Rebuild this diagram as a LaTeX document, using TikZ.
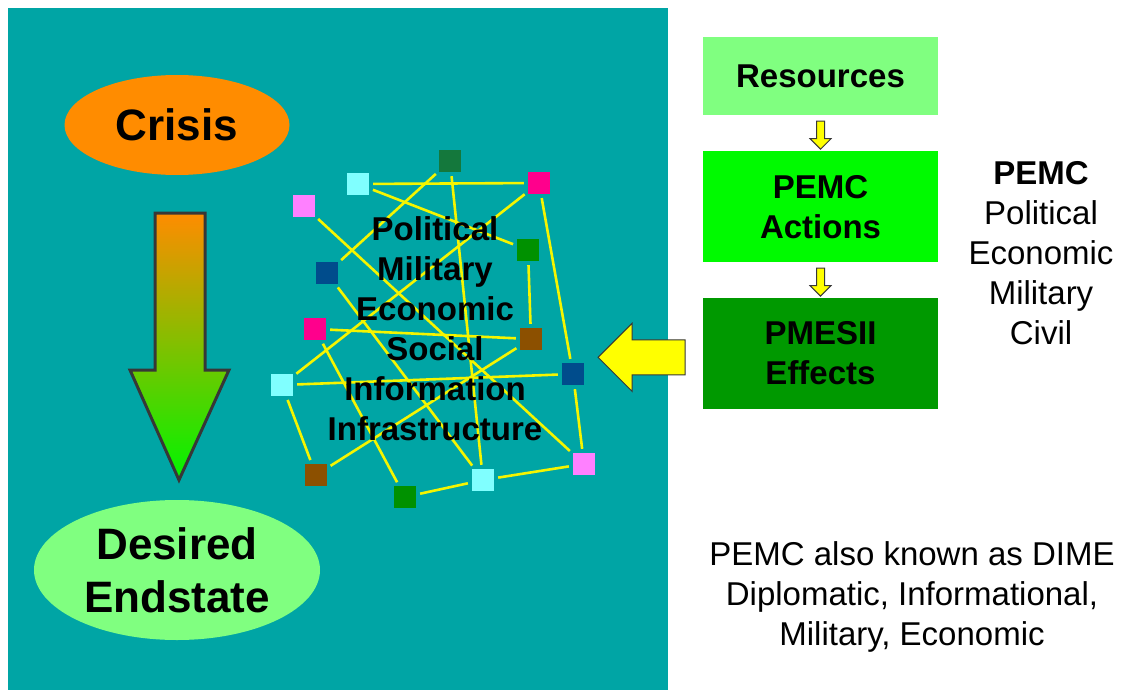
\documentclass[tikz,border=0pt]{standalone}
\usepackage{fontspec}
\setmainfont{Liberation Sans}
\usetikzlibrary{positioning,calc,shapes.geometric,shapes.arrows}
\definecolor{cteal}{RGB}{0,165,165}
\definecolor{corange}{RGB}{255,140,0}
\definecolor{clight}{RGB}{128,255,128}
\definecolor{clime}{RGB}{0,250,0}
\definecolor{cdark}{RGB}{0,153,0}
\definecolor{cyel}{RGB}{255,255,0}
\definecolor{cline}{RGB}{245,245,0}
\definecolor{cgray}{RGB}{55,55,55}
\definecolor{cgreen}{RGB}{0,245,0}
\definecolor{sqdkgreen}{RGB}{20,120,60}
\definecolor{sqcyan}{RGB}{128,255,255}
\definecolor{sqmag}{RGB}{255,0,140}
\definecolor{sqpink}{RGB}{255,128,255}
\definecolor{sqgreen}{RGB}{0,145,0}
\definecolor{sqblue}{RGB}{0,76,140}
\definecolor{sqbrown}{RGB}{140,80,0}

\begin{document}
\begin{tikzpicture}[x=1pt, y=-1pt,
    oval/.style={ellipse, inner sep=0pt, align=center,
                 font=\bfseries\fontsize{44}{53}\selectfont},
    stagebox/.style={rectangle, minimum width=235pt, inner sep=0pt, align=center,
                     font=\bfseries\fontsize{33}{40}\selectfont},
    sq/.style={rectangle, minimum size=22pt, inner sep=0pt},
    link/.style={cline, line width=2.6pt, shorten >=4pt, shorten <=4pt},
    yarrow/.style={single arrow, fill=cyel, draw=cgray, line width=1pt, inner xsep=0pt}
  ]
  \useasboundingbox[fill=white] (0,0) rectangle (1132,690);
  \fill[cteal] (8,8) rectangle (668,690);

  % crisis to endstate
  \node[oval, fill=corange, minimum width=225pt, minimum height=100pt] (crisis) at (177,125) {Crisis};
  \node[oval, fill=clight, minimum width=286pt, minimum height=140pt] (endstate) at (177,570) {Desired\\Endstate};
  \shadedraw[top color=corange, bottom color=cgreen, draw=cgray, line width=3pt]
    (155,213) -- (205,213) -- (205,370) -- (229,370) -- (179,480) -- (130,370) -- (155,370) -- cycle;

  % the system
  \node[sq, fill=sqdkgreen] (dg1) at (450,161) {};
  \node[sq, fill=sqcyan] (cy1) at (358,184) {};
  \node[sq, fill=sqmag] (mg1) at (539,183) {};
  \node[sq, fill=sqpink] (pk1) at (304,206) {};
  \node[sq, fill=sqgreen] (gr1) at (528,250) {};
  \node[sq, fill=sqblue] (bl1) at (327,273) {};
  \node[sq, fill=sqmag] (mg2) at (315,329) {};
  \node[sq, fill=sqbrown] (br1) at (531,339) {};
  \node[sq, fill=sqcyan] (cy2) at (282,385) {};
  \node[sq, fill=sqblue] (bl2) at (573,374) {};
  \node[sq, fill=sqbrown] (br2) at (316,475) {};
  \node[sq, fill=sqgreen] (gr2) at (405,497) {};
  \node[sq, fill=sqcyan] (cy3) at (483,480) {};
  \node[sq, fill=sqpink] (pk2) at (584,464) {};

  \draw[link] (cy1) -- (mg1);
  \draw[link] (cy1) -- (gr1);
  \draw[link] (dg1) -- (bl1);
  \draw[link] (dg1) -- (cy3);
  \draw[link] (mg1) -- (cy2);
  \draw[link] (mg1) -- (bl2);
  \draw[link] (pk1) -- (pk2);
  \draw[link] (bl1) -- (cy3);
  \draw[link] (mg2) -- (br1);
  \draw[link] (gr1) -- (br1);
  \draw[link] (mg2) -- (gr2);
  \draw[link] (cy2) -- (bl2);
  \draw[link] (br1) -- (br2);
  \draw[link] (cy2) -- (br2);
  \draw[link] (gr2) -- (cy3);
  \draw[link] (cy3) -- (pk2);
  \draw[link] (bl2) -- (pk2);

  \node[align=center, font=\bfseries\fontsize{33}{40}\selectfont] (pmesii) at (435,329)
    {Political\\Military\\Economic\\Social\\Information\\Infrastructure};

  % actions side
  \node[stagebox, fill=clight, minimum height=78pt] (res) at (820.5,76) {Resources};
  \node[stagebox, fill=clime, minimum height=111pt, below=36pt of res] (actions) {PEMC\\Actions};
  \node[stagebox, fill=cdark, minimum height=111pt, below=35pt of actions] (effects) {PMESII\\Effects};

  \node[yarrow, rotate=-90, minimum height=28pt, inner ysep=3.5pt, single arrow head extend=6.5pt]
    (arr1) at ($(res.south)!0.5!(actions.north)$) {};
  \node[yarrow, rotate=-90, minimum height=28pt, inner ysep=3.5pt, single arrow head extend=6.5pt]
    (arr2) at ($(actions.south)!0.5!(effects.north)$) {};
  \node[yarrow, rotate=180, minimum height=87pt, inner ysep=17pt, single arrow head extend=16.5pt]
    (arr3) at ($(effects.west)+(-52.5,4)$) {};

  \node[align=center, font=\fontsize{33}{40}\selectfont] (pemc) at (1041,253)
    {\textbf{PEMC}\\Political\\Economic\\Military\\Civil};
  \node[align=center, font=\fontsize{33}{40}\selectfont] (dime) at (912,597)
    {PEMC also known as DIME\\Diplomatic, Informational,\\Military, Economic};
\end{tikzpicture}
\end{document}
